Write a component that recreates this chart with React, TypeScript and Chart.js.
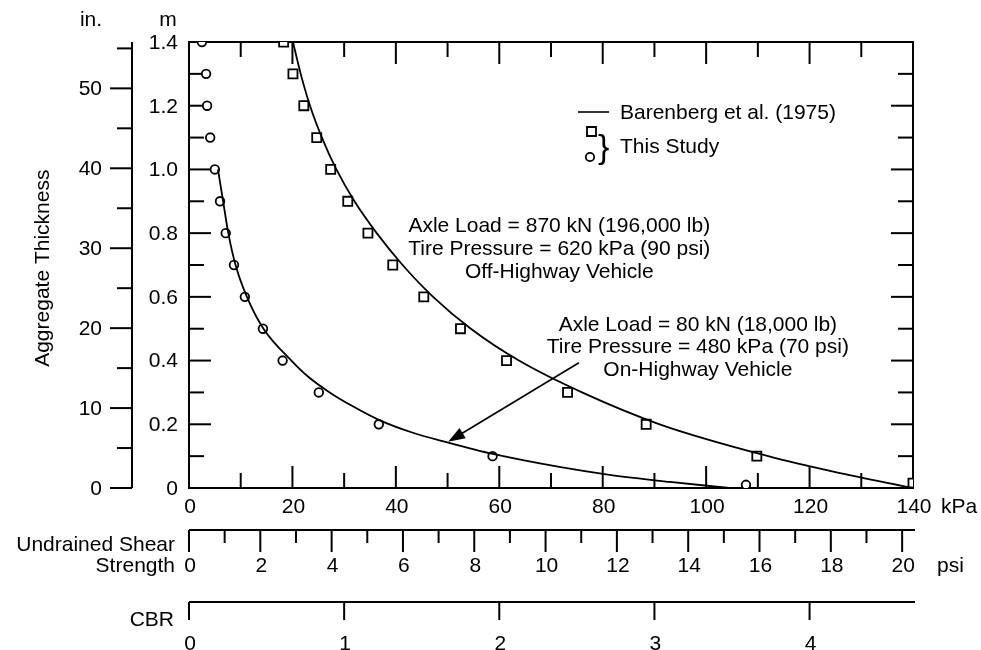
import React, { useEffect, useRef } from 'react';
import { Chart, registerables } from 'chart.js';

Chart.register(...registerables);

// ---------- DATA ----------
// Barenberg et al. (1975) curves  (x: undrained shear strength kPa, y: aggregate thickness m)
const offHwyCurveKpa = [20.1, 21.6, 23.4, 25.7, 28.5, 32.0, 36.3, 41.3, 47.2, 54.5, 63.8, 76.0, 91.0, 112.0, 125.0, 140.0];
const offHwyCurveM = [1.4, 1.3, 1.2, 1.1, 1.0, 0.9, 0.8, 0.7, 0.6, 0.5, 0.4, 0.3, 0.2, 0.1, 0.05, 0.0];
const onHwyCurveKpa = [5.6, 6.6, 7.6, 9.0, 11.2, 14.4, 19.8, 23.0, 27.2, 31.5, 36.7, 43.0, 50.0, 59.0, 71.6, 81.0, 93.0, 104.5];
const onHwyCurveM = [1.0, 0.9, 0.8, 0.7, 0.6, 0.5, 0.4, 0.35, 0.3, 0.258, 0.214, 0.175, 0.143, 0.106, 0.066, 0.042, 0.019, 0.0];

// This study (squares: off-highway, circles: on-highway)
const squareKpa = [18.3, 20.1, 22.2, 24.7, 27.4, 30.7, 34.6, 39.4, 45.4, 52.5, 61.4, 73.2, 88.4, 109.8, 140.0];
const squareM = [1.4, 1.3, 1.2, 1.1, 1.0, 0.9, 0.8, 0.7, 0.6, 0.5, 0.4, 0.3, 0.2, 0.1, 0.015];
const circleKpa = [2.5, 3.3, 3.5, 4.1, 5.0, 6.0, 7.1, 8.7, 10.8, 14.3, 18.1, 25.1, 36.7, 58.7, 107.7];
const circleM = [1.4, 1.3, 1.2, 1.1, 1.0, 0.9, 0.8, 0.7, 0.6, 0.5, 0.4, 0.3, 0.2, 0.1, 0.01];

// Ticks
const kpaTicks = [0, 10, 20, 30, 40, 50, 60, 70, 80, 90, 100, 110, 120, 130, 140];
const kpaLabels = [0, 20, 40, 60, 80, 100, 120, 140];
const mTicks = [0, 0.1, 0.2, 0.3, 0.4, 0.5, 0.6, 0.7, 0.8, 0.9, 1.0, 1.1, 1.2, 1.3, 1.4];
const mLabels = ['0', '0.2', '0.4', '0.6', '0.8', '1.0', '1.2', '1.4'];
const inTicks = [0, 5, 10, 15, 20, 25, 30, 35, 40, 45, 50, 55];
const inLabels = [0, 10, 20, 30, 40, 50];
const psiTicks = [0, 1, 2, 3, 4, 5, 6, 7, 8, 9, 10, 11, 12, 13, 14, 15, 16, 17, 18, 19, 20];
const psiLabels = [0, 2, 4, 6, 8, 10, 12, 14, 16, 18, 20];
const cbrTicks = [0, 1, 2, 3, 4];
const cbrLabels = [0, 1, 2, 3, 4];

const annotationOff = ['Axle Load = 870 kN (196,000 lb)', 'Tire Pressure = 620 kPa (90 psi)', 'Off-Highway Vehicle'];
const annotationOn = ['Axle Load = 80 kN (18,000 lb)', 'Tire Pressure = 480 kPa (70 psi)', 'On-Highway Vehicle'];

const FONT = '"Liberation Sans", Arial, Helvetica, sans-serif';
const KPA_MAX = 140;
const M_MAX = 1.4;
const IN_MAX = 55.8;
const PSI_MAX = 140 / 6.895;
const CBR_MAX = 140 / 30;

const toXY = (xs: number[], ys: number[]) => xs.map((x, i) => ({ x, y: ys[i] }));
const near = (a: number, b: number) => Math.abs(a - b) < 1e-6;

const paperAxes = {
  id: 'paperAxes',
  beforeDatasetsDraw(chart: any) {
    const ctx = chart.ctx;
    const { left, right, top, bottom } = chart.chartArea;
    const sx = chart.scales.x;
    const sy = chart.scales.y;
    const sIn = chart.scales.yIn;
    const sPsi = chart.scales.xPsi;
    const sCbr = chart.scales.xCbr;
    const line = (x1: number, y1: number, x2: number, y2: number) => {
      ctx.beginPath();
      ctx.moveTo(x1, y1);
      ctx.lineTo(x2, y2);
      ctx.stroke();
    };
    ctx.save();
    ctx.strokeStyle = '#000';
    ctx.fillStyle = '#000';
    ctx.lineWidth = 2;
    ctx.lineCap = 'square';

    // frame
    line(left, top, right, top);
    line(left, bottom, right, bottom);
    line(left, top, left, bottom);
    line(right, top, right, bottom);

    // kPa ticks (top and bottom, inward)
    ctx.lineCap = 'butt';
    kpaTicks.forEach((v) => {
      const px = sx.getPixelForValue(v);
      const len = kpaLabels.includes(v) ? 22 : 15;
      line(px, bottom, px, bottom - len);
      line(px, top, px, top + len);
    });
    // m ticks (left & right, inward)
    mTicks.forEach((v) => {
      const py = sy.getPixelForValue(v);
      const major = mLabels.some((l) => near(parseFloat(l), v));
      const len = major ? 22 : 15;
      line(left, py, left + len, py);
      line(right, py, right - len, py);
    });

    ctx.font = `21px ${FONT}`;
    // m labels
    ctx.textAlign = 'right';
    ctx.textBaseline = 'middle';
    mLabels.forEach((l) => {
      ctx.fillText(l, left - 11, sy.getPixelForValue(parseFloat(l)) + 1);
    });

    // inch axis
    const inX = left - 57;
    line(inX, top, inX, bottom);
    inTicks.forEach((v) => {
      const py = sIn.getPixelForValue(v);
      const len = inLabels.includes(v) ? 22 : 15;
      line(inX, py, inX - len, py);
    });
    inLabels.forEach((v) => {
      ctx.fillText(String(v), inX - 30, sIn.getPixelForValue(v) + 1);
    });

    // unit heads
    ctx.textAlign = 'center';
    ctx.textBaseline = 'alphabetic';
    ctx.fillText('in.', inX - 41, 26);
    ctx.fillText('m', left - 21, 26);

    // kPa labels
    ctx.textBaseline = 'middle';
    kpaLabels.forEach((v) => {
      ctx.fillText(String(v), sx.getPixelForValue(v) + 1, bottom + 19);
    });
    ctx.textAlign = 'left';
    ctx.fillText('kPa', sx.getPixelForValue(KPA_MAX) + 28, bottom + 19);

    // psi axis
    const psiY = bottom + 42;
    line(left, psiY, right + 2, psiY);
    psiTicks.forEach((v) => {
      const px = sPsi.getPixelForValue(v);
      const len = psiLabels.includes(v) ? 22 : 13;
      line(px, psiY, px, psiY + len);
    });
    ctx.textAlign = 'center';
    psiLabels.forEach((v) => {
      ctx.fillText(String(v), sPsi.getPixelForValue(v) + 1, psiY + 36);
    });
    ctx.textAlign = 'left';
    ctx.fillText('psi', right + 24, psiY + 36);
    ctx.textAlign = 'right';
    ctx.fillText('Undrained Shear', left - 14, psiY + 15);
    ctx.fillText('Strength', left - 14, psiY + 36);

    // CBR axis
    const cbrY = bottom + 114;
    line(left, cbrY, right + 2, cbrY);
    cbrTicks.forEach((v) => {
      const px = sCbr.getPixelForValue(v);
      line(px, cbrY, px, cbrY + 18);
    });
    ctx.textAlign = 'center';
    cbrLabels.forEach((v) => {
      ctx.fillText(String(v), sCbr.getPixelForValue(v) + 1, cbrY + 42);
    });
    ctx.textAlign = 'right';
    ctx.fillText('CBR', left - 15, cbrY + 18);

    // y title
    ctx.save();
    ctx.translate(43, sy.getPixelForValue(0.69));
    ctx.rotate(-Math.PI / 2);
    ctx.textAlign = 'center';
    ctx.textBaseline = 'middle';
    ctx.fillText('Aggregate Thickness', 0, 0);
    ctx.restore();

    ctx.restore();
  },
  afterDatasetsDraw(chart: any) {
    const ctx = chart.ctx;
    const sx = chart.scales.x;
    const sy = chart.scales.y;
    ctx.save();
    ctx.fillStyle = '#000';
    ctx.strokeStyle = '#000';
    ctx.font = `21px ${FONT}`;
    ctx.textBaseline = 'alphabetic';
    ctx.textAlign = 'center';

    // annotations
    const offX = sx.getPixelForValue(71.6);
    const offY = sy.getPixelForValue(0.805);
    annotationOff.forEach((t, i) => ctx.fillText(t, offX, offY + i * 23));
    const onX = sx.getPixelForValue(98.4);
    const onY = sy.getPixelForValue(0.494);
    annotationOn.forEach((t, i) => ctx.fillText(t, onX, onY + i * 22.5));

    // arrow
    const ax1 = sx.getPixelForValue(75.4);
    const ay1 = sy.getPixelForValue(0.393);
    const ax2 = sx.getPixelForValue(50.1);
    const ay2 = sy.getPixelForValue(0.145);
    const ang = Math.atan2(ay2 - ay1, ax2 - ax1);
    const headLen = 17;
    const headW = 6;
    ctx.lineWidth = 1.6;
    ctx.beginPath();
    ctx.moveTo(ax1, ay1);
    ctx.lineTo(ax2 - Math.cos(ang) * headLen * 0.8, ay2 - Math.sin(ang) * headLen * 0.8);
    ctx.stroke();
    ctx.beginPath();
    ctx.moveTo(ax2, ay2);
    ctx.lineTo(ax2 - Math.cos(ang) * headLen + Math.sin(ang) * headW, ay2 - Math.sin(ang) * headLen - Math.cos(ang) * headW);
    ctx.lineTo(ax2 - Math.cos(ang) * headLen - Math.sin(ang) * headW, ay2 - Math.sin(ang) * headLen + Math.cos(ang) * headW);
    ctx.closePath();
    ctx.fill();

    // legend
    const lx = 578;
    const ly = 112;
    ctx.lineWidth = 1.6;
    ctx.beginPath();
    ctx.moveTo(lx, ly);
    ctx.lineTo(lx + 31, ly);
    ctx.stroke();
    ctx.textAlign = 'left';
    ctx.fillText('Barenberg et al. (1975)', lx + 42, ly + 7);
    ctx.lineWidth = 1.8;
    ctx.fillStyle = '#fff';
    ctx.beginPath();
    ctx.rect(lx + 9, ly + 15, 9, 9);
    ctx.fill();
    ctx.stroke();
    ctx.beginPath();
    ctx.arc(lx + 12, ly + 45, 4.2, 0, Math.PI * 2);
    ctx.fill();
    ctx.stroke();
    ctx.fillStyle = '#000';
    ctx.font = `34px ${FONT}`;
    ctx.fillText('}', lx + 20, ly + 46);
    ctx.font = `21px ${FONT}`;
    ctx.fillText('This Study', lx + 42, ly + 41);

    ctx.restore();
  },
};

export default function App() {
  const canvasRef = useRef<HTMLCanvasElement | null>(null);

  useEffect(() => {
    const canvas = canvasRef.current;
    if (!canvas) return;
    const chart = new Chart(canvas, {
      type: 'scatter',
      data: {
        datasets: [
          {
            label: 'Barenberg et al. (1975) off-highway',
            data: toXY(offHwyCurveKpa, offHwyCurveM),
            showLine: true,
            borderColor: '#000',
            borderWidth: 1.8,
            pointRadius: 0,
            cubicInterpolationMode: 'monotone',
          },
          {
            label: 'Barenberg et al. (1975) on-highway',
            data: toXY(onHwyCurveKpa, onHwyCurveM),
            showLine: true,
            borderColor: '#000',
            borderWidth: 1.8,
            pointRadius: 0,
            cubicInterpolationMode: 'monotone',
          },
          {
            label: 'This Study (off-highway)',
            data: toXY(squareKpa, squareM),
            showLine: false,
            pointStyle: 'rect',
            pointRadius: 6.4,
            borderColor: '#000',
            backgroundColor: '#fff',
            borderWidth: 1.8,
          },
          {
            label: 'This Study (on-highway)',
            data: toXY(circleKpa, circleM),
            showLine: false,
            pointStyle: 'circle',
            pointRadius: 4.3,
            borderColor: '#000',
            backgroundColor: '#fff',
            borderWidth: 1.8,
          },
        ],
      },
      options: {
        responsive: false,
        animation: false,
        devicePixelRatio: 1,
        layout: { padding: { left: 189, right: 68, top: 42, bottom: 162 } },
        plugins: { legend: { display: false }, tooltip: { enabled: false } },
        scales: {
          x: { type: 'linear', position: 'bottom', min: 0, max: KPA_MAX, display: false },
          y: { type: 'linear', position: 'left', min: 0, max: M_MAX, display: false },
          yIn: { type: 'linear', position: 'left', min: 0, max: IN_MAX, display: false },
          xPsi: { type: 'linear', position: 'bottom', min: 0, max: PSI_MAX, display: false },
          xCbr: { type: 'linear', position: 'bottom', min: 0, max: CBR_MAX, display: false },
        },
      } as any,
      plugins: [paperAxes],
    });
    return () => chart.destroy();
  }, []);

  return (
    <div style={{ position: 'absolute', left: 0, top: 0, width: 981, height: 650, background: '#fff' }}>
      <canvas ref={canvasRef} width={981} height={650} style={{ display: 'block' }} />
    </div>
  );
}
